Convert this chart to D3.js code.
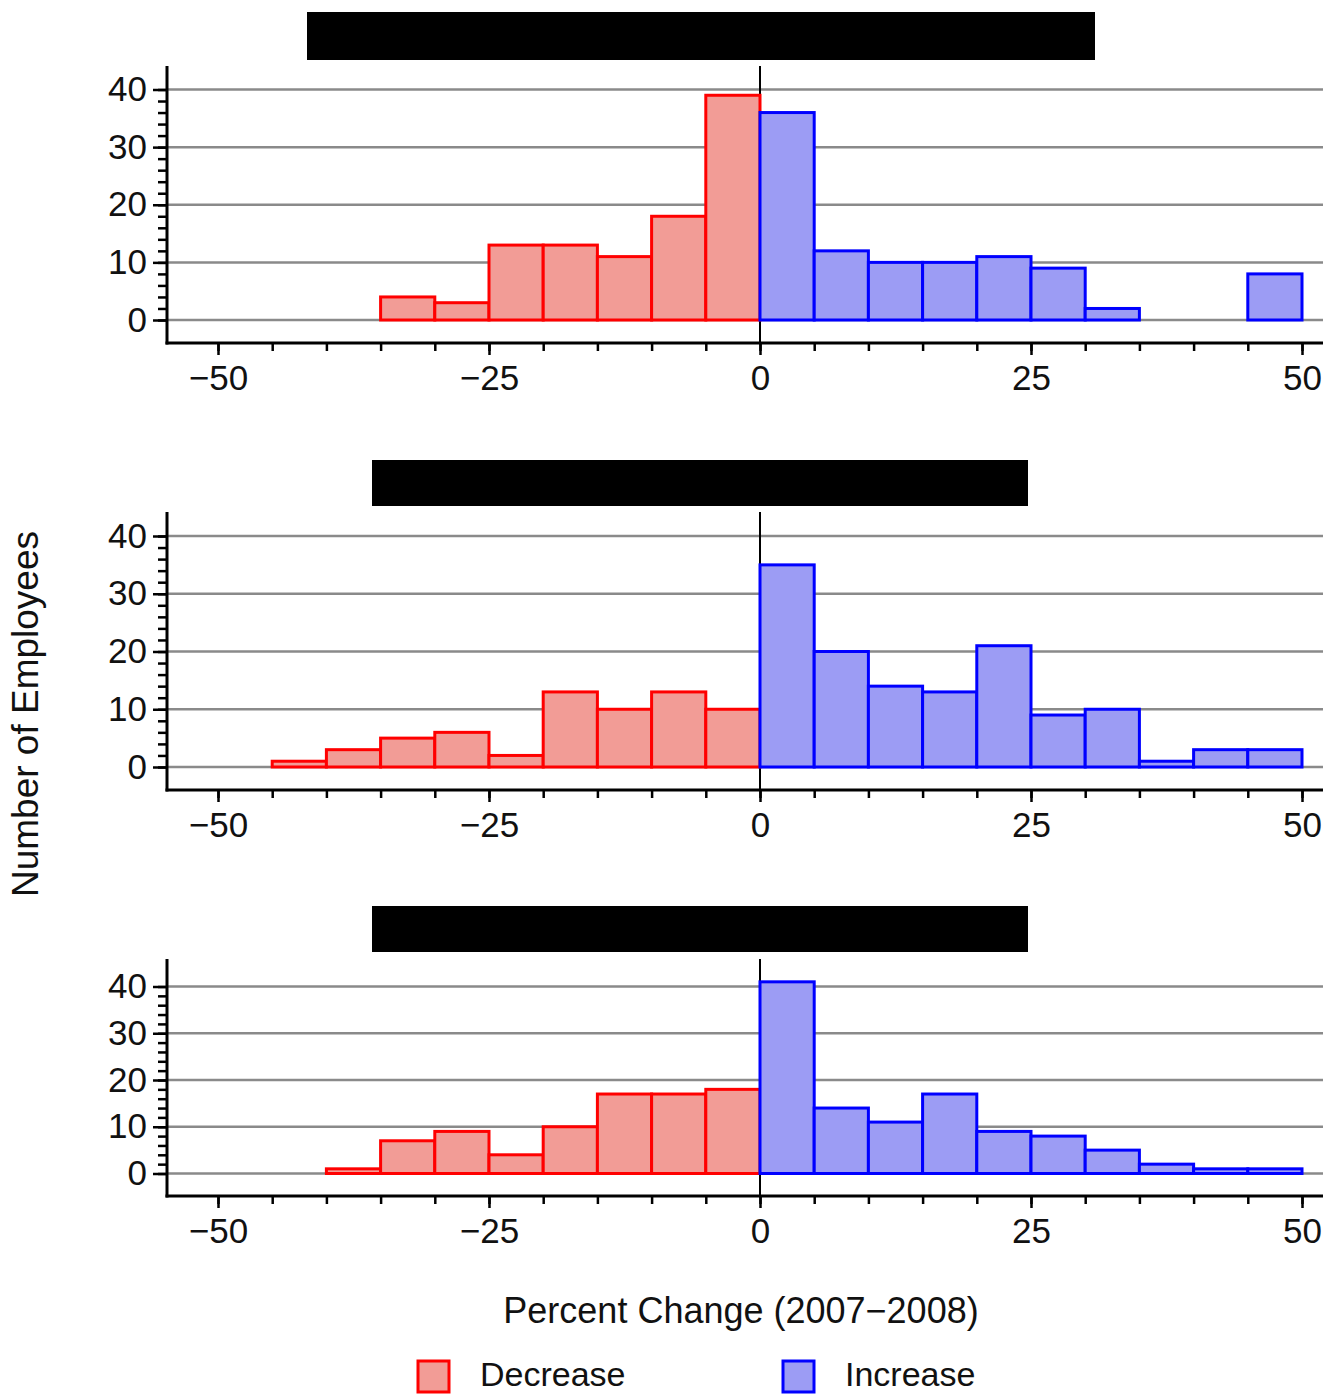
<!DOCTYPE html>
<html>
<head>
<meta charset="utf-8">
<script src="https://cdn.jsdelivr.net/npm/d3@7"></script>
<style>
  html, body { margin: 0; padding: 0; background: #ffffff; }
  svg { display: block; }
  text { font-family: "Liberation Sans", Arial, sans-serif; fill: #111; }
</style>
</head>
<body>
<svg id="chart" width="1323" height="1394"></svg>
<script>
// Histogram bins (left edge of each 5-point bin, percent change)
const decreaseBins = [-50, -45, -40, -35, -30, -25, -20, -15, -10, -5];
const increaseBins = [0, 5, 10, 15, 20, 25, 30, 35, 40, 45];
const binWidth = 5;

// Employee counts per bin, one pair of arrays per panel
const panel1Decrease = [0, 0, 0, 4, 3, 13, 13, 11, 18, 39];
const panel1Increase = [36, 12, 10, 10, 11, 9, 2, 0, 0, 8];
const panel2Decrease = [0, 1, 3, 5, 6, 2, 13, 10, 13, 10];
const panel2Increase = [35, 20, 14, 13, 21, 9, 10, 1, 3, 3];
const panel3Decrease = [0, 0, 1, 7, 9, 4, 10, 17, 17, 18];
const panel3Increase = [41, 14, 11, 17, 9, 8, 5, 2, 1, 1];

// Axis ticks
const xTickLabels = [-50, -25, 0, 25, 50];
const xTickAll = d3.range(-50, 51, 5);
const yTickLabels = [0, 10, 20, 30, 40];
const yTickMinor = d3.range(0, 41, 2);

const xTitle = "Percent Change (2007\u22122008)";
const yTitle = "Number of Employees";
const legendLabels = ["Decrease", "Increase"];

// Layout of each panel: y pixel for count 0 and 40, axis top and x-axis line
const panels = [
  { dec: panel1Decrease, inc: panel1Increase, y0: 320, y40: 89.5, top: 66, axisY: 343,
    bar: [307, 12, 1095, 60] },
  { dec: panel2Decrease, inc: panel2Increase, y0: 767, y40: 536, top: 512, axisY: 790,
    bar: [372, 460, 1028, 506] },
  { dec: panel3Decrease, inc: panel3Increase, y0: 1173.5, y40: 986.5, top: 959, axisY: 1196,
    bar: [372, 906, 1028, 952] }
];

const W = 1323;
const axisX = 167;
const x = d3.scaleLinear().domain([-50, 50]).range([218, 1302]);

const colors = {
  decFill: "#F29C96", decStroke: "#FF0000",
  incFill: "#9C9CF4", incStroke: "#0000FF"
};

const svg = d3.select("#chart");
svg.append("rect").attr("width", W).attr("height", 1394).attr("fill", "#ffffff");

panels.forEach(p => {
  const y = d3.scaleLinear().domain([0, 40]).range([p.y0, p.y40]);
  const g = svg.append("g");

  // Black title block
  g.append("rect")
    .attr("x", p.bar[0]).attr("y", p.bar[1])
    .attr("width", p.bar[2] - p.bar[0]).attr("height", p.bar[3] - p.bar[1])
    .attr("fill", "#000");

  // Horizontal gridlines
  g.selectAll("line.grid").data(yTickLabels).join("line")
    .attr("class", "grid")
    .attr("x1", axisX).attr("x2", W)
    .attr("y1", d => y(d)).attr("y2", d => y(d))
    .attr("stroke", "#8a8a8a").attr("stroke-width", 2.5);

  // Zero reference line
  g.append("line")
    .attr("x1", x(0)).attr("x2", x(0))
    .attr("y1", p.top).attr("y2", p.axisY)
    .attr("stroke", "#000").attr("stroke-width", 2);

  // Bars
  const decData = decreaseBins.map((b, i) => ({ b, v: p.dec[i] })).filter(d => d.v > 0);
  const incData = increaseBins.map((b, i) => ({ b, v: p.inc[i] })).filter(d => d.v > 0);

  g.selectAll("rect.dec").data(decData).join("rect")
    .attr("class", "dec")
    .attr("x", d => x(d.b)).attr("width", d => x(d.b + binWidth) - x(d.b))
    .attr("y", d => y(d.v)).attr("height", d => y(0) - y(d.v))
    .attr("fill", colors.decFill).attr("stroke", colors.decStroke).attr("stroke-width", 3);

  g.selectAll("rect.inc").data(incData).join("rect")
    .attr("class", "inc")
    .attr("x", d => x(d.b)).attr("width", d => x(d.b + binWidth) - x(d.b))
    .attr("y", d => y(d.v)).attr("height", d => y(0) - y(d.v))
    .attr("fill", colors.incFill).attr("stroke", colors.incStroke).attr("stroke-width", 3);

  // Y axis: minor ticks, then major ticks with labels
  const yMinor = g.append("g").attr("transform", `translate(${axisX},0)`)
    .call(d3.axisLeft(y).tickValues(yTickMinor).tickSize(9).tickFormat(""));
  const yMajor = g.append("g").attr("transform", `translate(${axisX},0)`)
    .call(d3.axisLeft(y).tickValues(yTickLabels).tickSize(14).tickPadding(6));
  [yMinor, yMajor].forEach(a => {
    a.select(".domain").remove();
    a.selectAll(".tick line").attr("stroke", "#000").attr("stroke-width", 2.5);
  });
  yMajor.selectAll(".tick text")
    .attr("font-size", 35).attr("fill", "#111")
    .attr("font-family", "'Liberation Sans', Arial, sans-serif");

  // X axis: ticks every bin, longer ticks with labels
  const xMinor = g.append("g").attr("transform", `translate(0,${p.axisY})`)
    .call(d3.axisBottom(x).tickValues(xTickAll).tickSize(8).tickFormat(""));
  const xMajor = g.append("g").attr("transform", `translate(0,${p.axisY})`)
    .call(d3.axisBottom(x).tickValues(xTickLabels).tickSize(12).tickPadding(10));
  [xMinor, xMajor].forEach(a => {
    a.select(".domain").remove();
    a.selectAll(".tick line").attr("stroke", "#000").attr("stroke-width", 2.5);
  });
  xMajor.selectAll(".tick text")
    .attr("font-size", 35).attr("fill", "#111")
    .attr("font-family", "'Liberation Sans', Arial, sans-serif");

  // Axis lines
  g.append("line")
    .attr("x1", axisX).attr("x2", axisX)
    .attr("y1", p.top).attr("y2", p.axisY + 1.5)
    .attr("stroke", "#000").attr("stroke-width", 3);
  g.append("line")
    .attr("x1", axisX - 1.5).attr("x2", W)
    .attr("y1", p.axisY).attr("y2", p.axisY)
    .attr("stroke", "#000").attr("stroke-width", 3);
});

// Axis titles
svg.append("text")
  .attr("x", 741).attr("y", 1323)
  .attr("text-anchor", "middle").attr("font-size", 36)
  .text(xTitle);

svg.append("text")
  .attr("transform", "translate(38,714) rotate(-90)")
  .attr("text-anchor", "middle").attr("font-size", 37)
  .text(yTitle);

// Legend
const legend = svg.append("g");
const legendItems = [
  { label: legendLabels[0], fill: colors.decFill, stroke: colors.decStroke, x: 418 },
  { label: legendLabels[1], fill: colors.incFill, stroke: colors.incStroke, x: 783 }
];
legendItems.forEach(d => {
  legend.append("rect")
    .attr("x", d.x).attr("y", 1361)
    .attr("width", 31).attr("height", 31)
    .attr("fill", d.fill).attr("stroke", d.stroke).attr("stroke-width", 3);
  legend.append("text")
    .attr("x", d.x + 62).attr("y", 1386)
    .attr("font-size", 34)
    .text(d.label);
});
</script>
</body>
</html>
